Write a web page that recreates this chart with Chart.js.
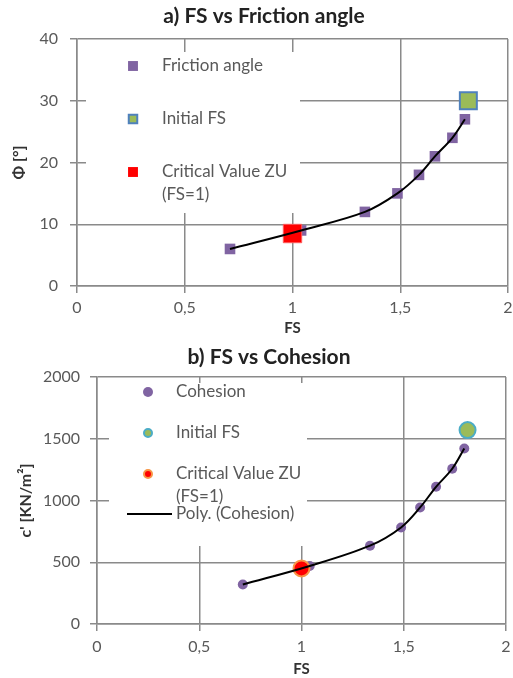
<!DOCTYPE html>
<html>
<head>
<meta charset="utf-8">
<script src="https://cdn.jsdelivr.net/npm/chart.js@4/dist/chart.umd.min.js"></script>
<style>
  html, body { margin: 0; padding: 0; background: #fff; overflow: hidden; }
  canvas { position: absolute; left: 0; display: block; }
  #chartA { top: 0; }
  #chartB { top: 339px; }
</style>
</head>
<body>
<canvas id="chartA" width="513" height="339"></canvas>
<canvas id="chartB" width="513" height="339"></canvas>
<script>
// a) FS vs friction angle
const titleA = 'a) FS vs Friction angle';
const fsA = [0.71, 1.04, 1.336, 1.487, 1.587, 1.661, 1.742, 1.80];
const frictionAngle = [6, 9, 12, 15, 18, 21, 24, 27];
const initialFsA = [1.816];
const initialPhi = [30];
const criticalFsA = [1.0];
const criticalPhi = [8.5];
const yTicksA = [0, 10, 20, 30, 40];

// b) FS vs cohesion
const titleB = 'b) FS vs Cohesion';
const fsB = [0.713, 1.04, 1.335, 1.487, 1.58, 1.658, 1.737, 1.796];
const cohesion = [320, 470, 634, 782, 944, 1111, 1257, 1421];
const initialFsB = [1.812];
const initialC = [1570];
const criticalFsB = [1.0];
const criticalC = [450];
const yTicksB = [0, 500, 1000, 1500, 2000];

const xTicks = [0, 0.5, 1, 1.5, 2];

const pts = (xs, ys) => xs.map((x, i) => ({ x: x, y: ys[i] }));
const comma = v => String(v).replace('.', ',');

const FONT = 'Lato';
const GRID = '#8a8a8a';
const TICK_COLOR = '#595959';
const TITLE_COLOR = '#333';

// chart title drawn by hand so it can sit where the original has it
const plotTitle = {
  id: 'plotTitle',
  afterDraw(chart, args, opts) {
    const ctx = chart.ctx;
    ctx.save();
    ctx.font = 'bold 21px ' + FONT;
    ctx.fillStyle = '#222';
    ctx.textAlign = 'center';
    ctx.textBaseline = 'middle';
    ctx.fillText(opts.text, opts.x, opts.y);
    ctx.restore();
  }
};

// legend that sits inside the plot on a white patch, like the Excel one
const insideLegend = {
  id: 'insideLegend',
  beforeDatasetsDraw(chart, args, opts) {
    const ctx = chart.ctx;
    ctx.save();
    ctx.fillStyle = '#fff';
    ctx.fillRect(opts.box.x, opts.box.y, opts.box.w, opts.box.h);
    ctx.font = '17px ' + FONT;
    ctx.textBaseline = 'middle';
    ctx.textAlign = 'left';
    opts.items.forEach(item => {
      const ds = chart.data.datasets[item.ds];
      if (item.line) {
        ctx.strokeStyle = ds.borderColor;
        ctx.lineWidth = 2;
        ctx.beginPath();
        ctx.moveTo(item.line[0], item.y);
        ctx.lineTo(item.line[1], item.y);
        ctx.stroke();
      } else {
        ctx.fillStyle = ds.backgroundColor;
        ctx.strokeStyle = ds.borderColor;
        ctx.lineWidth = item.bw || 0;
        Chart.helpers.drawPoint(ctx, {
          pointStyle: ds.pointStyle, radius: item.r, rotation: 0, borderWidth: item.bw || 0
        }, opts.markerX, item.y);
      }
      ctx.fillStyle = TICK_COLOR;
      ds.label.split('\n').forEach((line, k) => {
        ctx.fillText(line, opts.textX, item.y + k * opts.lineGap);
      });
    });
    ctx.restore();
  }
};

// x tick padding stays 0 (it would eat into the right edge); the tall line height pushes labels down instead
function axes(yMax, opt) {
  return {
    x: {
      type: 'linear', min: 0, max: 2,
      afterBuildTicks: s => { s.ticks = xTicks.map(v => ({ value: v })); },
      afterFit: s => { s.height = opt.xHeight; },
      ticks: { callback: comma, color: TICK_COLOR, font: { family: FONT, size: 16, lineHeight: opt.xLine }, padding: 0 },
      grid: { color: GRID, lineWidth: 1.5, tickLength: 7 },
      border: { color: GRID, width: 1.5 },
      title: { display: true, text: 'FS', color: TITLE_COLOR, font: { family: FONT, size: 15, weight: 'bold' }, padding: { top: 0, bottom: opt.xTitlePad } }
    },
    y: {
      type: 'linear', min: 0, max: yMax,
      afterBuildTicks: s => { s.ticks = opt.yTicks.map(v => ({ value: v })); },
      afterFit: s => { s.width = opt.yWidth; },
      ticks: { callback: v => String(v), color: TICK_COLOR, font: { family: FONT, size: 16 }, padding: opt.yPad },
      grid: { color: GRID, lineWidth: 1.5, tickLength: 7 },
      border: { color: GRID, width: 1.5 },
      title: { display: true, text: opt.yTitle, color: TITLE_COLOR, font: { family: FONT, size: 16, weight: 'bold' }, padding: { top: opt.yTitlePad, bottom: 0 } }
    }
  };
}

new Chart(document.getElementById('chartA'), {
  type: 'scatter',
  data: {
    datasets: [
      { label: 'Friction angle', data: pts(fsA, frictionAngle), pointStyle: 'rect', pointRadius: 7.5,
        backgroundColor: '#8064A2', borderColor: '#8064A2', borderWidth: 0, order: 3 },
      { label: 'Initial FS', data: pts(initialFsA, initialPhi), pointStyle: 'rect', pointRadius: 12,
        backgroundColor: '#9BBB59', borderColor: '#4F81BD', borderWidth: 2, order: 2 },
      { label: 'Critical Value ZU\n(FS=1)', data: pts(criticalFsA, criticalPhi), pointStyle: 'rect', pointRadius: 13,
        backgroundColor: '#FF0000', borderColor: '#FF5A5A', borderWidth: 1, order: 1 },
      { label: 'Poly. (Friction angle)', data: pts(fsA, frictionAngle), showLine: true, pointRadius: 0,
        borderColor: '#000', borderWidth: 2, tension: 0.35, order: 0 }
    ]
  },
  options: {
    responsive: false, animation: false,
    layout: { autoPadding: false, padding: { top: 39, right: 5, bottom: 0, left: 0 } },
    scales: axes(40, { yTicks: yTicksA, xHeight: 53, yWidth: 77, xLine: 1.875, yPad: 12, xTitlePad: 2, yTitlePad: 9, yTitle: 'Φ [°]' }),
    plugins: {
      legend: { display: false },
      tooltip: { enabled: false },
      plotTitle: { text: titleA, x: 264, y: 16 },
      insideLegend: {
        box: { x: 86, y: 52, w: 214, h: 161 }, markerX: 133, textX: 162, lineGap: 23,
        items: [
          { ds: 0, y: 66, r: 7 },
          { ds: 1, y: 119, r: 6, bw: 2 },
          { ds: 2, y: 172, r: 7 }
        ]
      }
    }
  },
  plugins: [plotTitle, insideLegend]
});

new Chart(document.getElementById('chartB'), {
  type: 'scatter',
  data: {
    datasets: [
      { label: 'Cohesion', data: pts(fsB, cohesion), pointStyle: 'circle', pointRadius: 5,
        backgroundColor: '#8064A2', borderColor: '#8064A2', borderWidth: 0, order: 3 },
      { label: 'Initial FS', data: pts(initialFsB, initialC), pointStyle: 'circle', pointRadius: 8,
        backgroundColor: '#9BBB59', borderColor: '#4BACC6', borderWidth: 2, order: 2 },
      { label: 'Critical Value ZU\n(FS=1)', data: pts(criticalFsB, criticalC), pointStyle: 'circle', pointRadius: 8,
        backgroundColor: '#FF0000', borderColor: '#F79646', borderWidth: 2, order: 1 },
      { label: 'Poly. (Cohesion)', data: pts(fsB, cohesion), showLine: true, pointRadius: 0,
        borderColor: '#000', borderWidth: 2, tension: 0.35, order: 0 }
    ]
  },
  options: {
    responsive: false, animation: false,
    layout: { autoPadding: false, padding: { top: 38, right: 7, bottom: 0, left: 0 } },
    scales: axes(2000, { yTicks: yTicksB, xHeight: 54, yWidth: 97, xLine: 2, yPad: 10, xTitlePad: 0, yTitlePad: 16, yTitle: "c' [KN/m²]" }),
    plugins: {
      legend: { display: false },
      tooltip: { enabled: false },
      plotTitle: { text: titleB, x: 269, y: 18 },
      insideLegend: {
        box: { x: 109, y: 44, w: 198, h: 163 }, markerX: 148, textX: 176, lineGap: 23,
        items: [
          { ds: 0, y: 53, r: 5 },
          { ds: 1, y: 94, r: 4, bw: 2 },
          { ds: 2, y: 135, r: 4, bw: 2 },
          { ds: 3, y: 175, line: [127, 172] }
        ]
      }
    }
  },
  plugins: [plotTitle, insideLegend]
});
</script>
</body>
</html>
